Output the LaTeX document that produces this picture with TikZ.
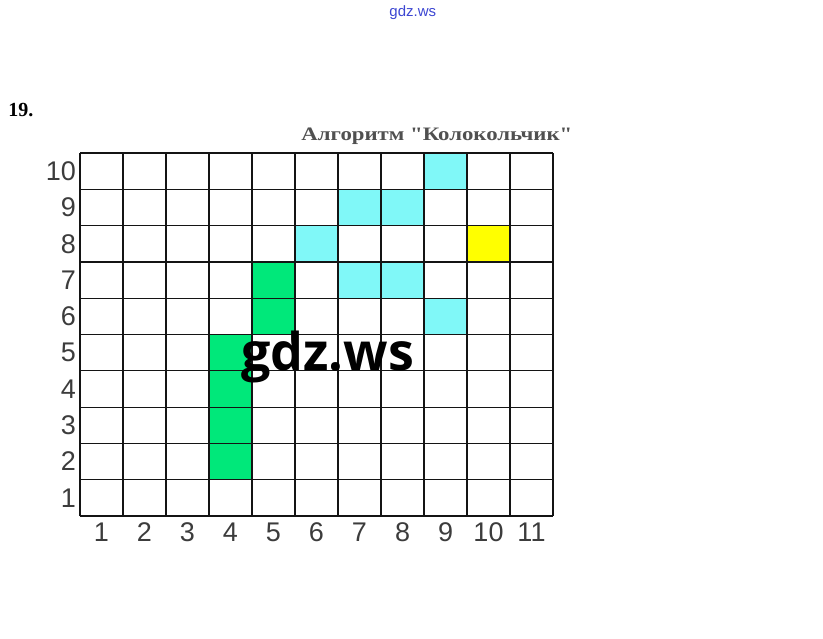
\documentclass[tikz,border=0pt]{standalone}
\usepackage{fontspec}
\setmainfont{Liberation Serif}
\setsansfont{Liberation Sans}
\newfontfamily\wmfont{Open Sans}
\usepackage{xcolor}
\usepackage{tikz}
\definecolor{ink}{RGB}{20,20,20}
\definecolor{numgray}{RGB}{60,60,60}
\definecolor{titlegray}{RGB}{80,80,80}
\definecolor{aqua}{RGB}{128,248,248}
\definecolor{leaf}{RGB}{0,232,122}
\definecolor{lemon}{RGB}{255,255,0}
\definecolor{linkblue}{RGB}{60,70,210}
\tikzset{
  gridline/.style={line width=1.2pt,ink},
  num/.style={font=\sffamily\fontsize{27}{27}\selectfont,text=numgray,inner sep=0pt},
  aquacell/.style={fill=aqua},
  leafcell/.style={fill=leaf},
  lemoncell/.style={fill=lemon}
}

\begin{document}
\begin{tikzpicture}[x=43pt,y=36.3pt]
  \useasboundingbox (-1.8605,-3.3609) rectangle (17.279,14.215);
  \foreach \c/\r in {9/10,7/9,8/9,6/8,7/7,8/7,9/6} {\fill[aquacell] (\c-1,\r-1) rectangle (\c,\r);}
  \foreach \c/\r in {5/7,5/6,4/5,4/4,4/3,4/2} {\fill[leafcell] (\c-1,\r-1) rectangle (\c,\r);}
  \fill[lemoncell] (9,7) rectangle (10,8);
  \foreach \x in {0,1,...,11} {\draw[gridline] (\x,0)--(\x,10);}
  \foreach \y in {0,1,...,10} {\draw[gridline] (0,\y)--(11,\y);}
  \foreach \r in {1,...,10} {\node[num,anchor=east] (row\r) at (-0.09,\r-0.5) {\r};}
  \foreach \c in {1,...,11} {\node[num] (col\c) at (\c-0.5,-0.44) {\c};}
  \node[font=\fontsize{19}{19}\selectfont\bfseries,text=titlegray,xscale=1.2] (title) at (8.30,10.47) {Алгоритм \textquotedbl Колокольчик\textquotedbl};
  \node[font=\fontsize{20}{20}\selectfont\bfseries,anchor=west,inner sep=0pt] (task) at (-1.67,11.18) {19.};
  \node[font=\sffamily\fontsize{15}{15}\selectfont,text=linkblue] (wmtop) at (7.74,13.88) {gdz.ws};
  \node[font=\wmfont\fontsize{52}{52}\selectfont\bfseries,anchor=base,inner sep=0pt] (wm) at (5.76,4.02) {gdz.ws};
\end{tikzpicture}
\end{document}
